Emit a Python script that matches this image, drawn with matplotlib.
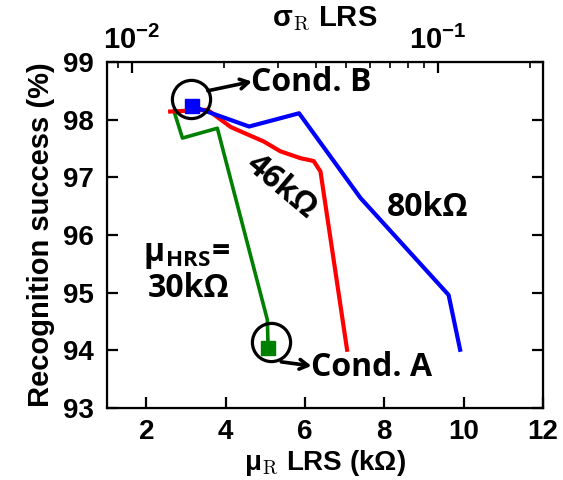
import matplotlib
matplotlib.use("Agg")
import matplotlib.pyplot as plt
from matplotlib.ticker import FixedLocator, LogLocator, NullFormatter

plt.rcParams['mathtext.fontset'] = 'cm'
plt.rcParams['font.family'] = ['Liberation Sans', 'DejaVu Sans']

# Recognition success vs. mean LRS resistance for three HRS means
mu_30k = [2.70, 2.91, 3.79, 5.05, 5.07]
acc_30k = [98.14, 97.68, 97.85, 94.53, 94.04]

mu_46k = [2.60, 3.54, 4.13, 4.96, 5.38, 5.89, 6.10, 6.22, 6.39, 7.06]
acc_46k = [98.14, 98.17, 97.87, 97.62, 97.45, 97.33, 97.30, 97.28, 97.10, 94.01]

mu_80k = [3.16, 4.59, 5.85, 7.40, 9.62, 9.91]
acc_80k = [98.23, 97.88, 98.11, 96.64, 94.96, 94.01]

# Highlighted operating points
cond_a = (5.07, 94.04)
cond_b = (3.16, 98.23)

x_ticks = [2, 4, 6, 8, 10, 12]
y_ticks = [93, 94, 95, 96, 97, 98, 99]
sigma_ticks = [1e-2, 1e-1]
sigma_labels = [r'$\mathregular{10^{-2}}$', r'$\mathregular{10^{-1}}$']

fig = plt.figure(figsize=(5.63, 4.8), dpi=100)
ax = fig.add_axes([0.1895, 0.150, 0.775, 0.721])

ax.plot(mu_30k, acc_30k, color='#008000', lw=2.6, zorder=3)
ax.plot(mu_46k, acc_46k, color='#ff0000', lw=3.0, zorder=4)
ax.plot(mu_80k, acc_80k, color='#0000ff', lw=3.0, zorder=5)
ax.plot(*cond_a, marker='s', ms=9.5, color='#008000', zorder=6)
ax.plot(*cond_b, marker='s', ms=9.5, color='#0000ff', zorder=6)

ax.set_xlim(1, 12)
ax.set_ylim(93, 99)
ax.set_xticks(x_ticks)
ax.set_yticks(y_ticks)
ax.tick_params(axis='both', which='major', direction='in', length=8, width=1.6,
               labelsize=20, right=True, top=False)
ax.tick_params(axis='y', pad=9)
ax.tick_params(axis='x', pad=8)
for lab in ax.get_xticklabels() + ax.get_yticklabels():
    lab.set_fontweight('bold')
for sp in ax.spines.values():
    sp.set_linewidth(1.6)

ax.set_xlabel(r'μ$_{\mathrm{R}}$ LRS (kΩ)', fontsize=20, fontweight='bold', labelpad=2)
ax.set_ylabel('Recognition success (%)', fontsize=21, fontweight='bold', labelpad=6)

# Standard deviation axis on top
ax2 = ax.twiny()
ax2.set_xscale('log')
ax2.set_xlim(0.00829, 0.2203)
ax2.xaxis.set_major_locator(FixedLocator(sigma_ticks))
ax2.xaxis.set_minor_locator(LogLocator(base=10, subs=range(2, 10)))
ax2.xaxis.set_minor_formatter(NullFormatter())
ax2.set_xticklabels(sigma_labels, fontsize=21, fontweight='bold')
ax2.tick_params(axis='x', which='major', direction='in', length=8, width=1.6, pad=5)
ax2.tick_params(axis='x', which='minor', direction='in', length=4, width=1.2)
ax2.set_xlabel(r'σ$_{\mathrm{R}}$ LRS', fontsize=21, fontweight='bold', labelpad=0)

# Annotations
note_font = dict(family=['Open Sans', 'DejaVu Sans'], fontweight='bold', fontsize=23)

ax.plot(3.13, 98.35, marker='o', ms=27.5, mfc='none', mec='black', mew=2.3,
        zorder=7, clip_on=False)
ax.plot(5.13, 94.15, marker='o', ms=27.5, mfc='none', mec='black', mew=2.3,
        zorder=7, clip_on=False)

ax.annotate('', xy=(4.66, 98.66), xytext=(3.55, 98.50),
            arrowprops=dict(arrowstyle='->,head_length=0.6,head_width=0.35',
                            lw=2.6, color='black', shrinkA=0, shrinkB=0), zorder=8)
ax.annotate('', xy=(6.16, 93.73), xytext=(5.40, 93.80),
            arrowprops=dict(arrowstyle='->,head_length=0.6,head_width=0.35',
                            lw=2.6, color='black', shrinkA=0, shrinkB=0), zorder=8)

ax.text(4.64, 98.64, 'Cond. B', ha='left', va='center', **note_font)
ax.text(6.14, 93.71, 'Cond. A', ha='left', va='center', **note_font)
ax.text(9.09, 96.47, '80kΩ', ha='center', va='center', **note_font)
ax.text(5.41, 96.83, '46kΩ', ha='center', va='center', rotation=-40, **note_font)
ax.text(3.03, 95.66, r'μ$_{\mathregular{HRS}}$=', ha='center', va='center', **note_font)
ax.text(3.06, 95.08, '30kΩ', ha='center', va='center', **note_font)

fig.savefig('out.png', dpi=100)
